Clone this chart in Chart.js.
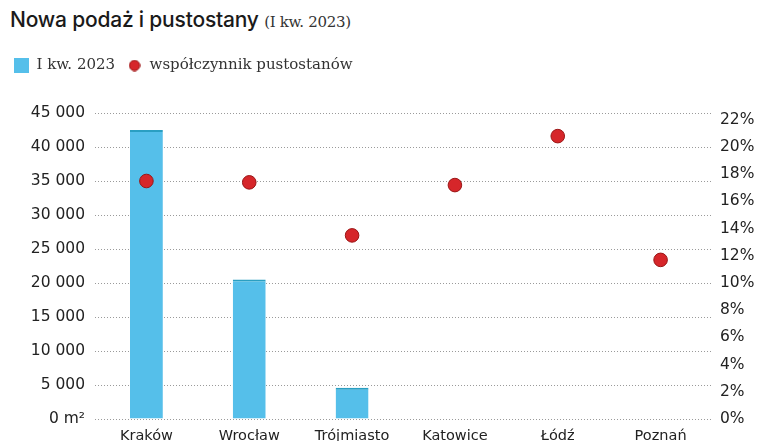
<!DOCTYPE html>
<html lang="pl">
<head>
<meta charset="utf-8">
<script src="https://cdn.jsdelivr.net/npm/chart.js@4/dist/chart.umd.min.js"></script>
<style>
  html, body { margin: 0; padding: 0; background: #fff; }
  #wrap { position: relative; width: 771px; height: 441px; }
  #title {
    position: absolute; left: 10px; top: 7px;
    font-family: Inter, "Noto Sans", sans-serif; font-weight: 500;
    font-size: 21px; color: #1a1a1a; letter-spacing: -0.2px; white-space: nowrap;
  }
  #title span {
    font-family: "DejaVu Serif", "Liberation Serif", serif; font-weight: 400;
    font-size: 15px; color: #333; letter-spacing: -0.3px;
  }
  canvas { position: absolute; left: 0; top: 0; }
</style>
</head>
<body>
<div id="wrap">
  <div id="title">Nowa podaż i pustostany <span>(I kw. 2023)</span></div>
  <canvas id="chart" width="771" height="441"></canvas>
</div>
<script>
// Miasta
const cities = ['Kraków', 'Wrocław', 'Trójmiasto', 'Katowice', 'Łódź', 'Poznań'];
// Nowa podaż biur w I kw. 2023 (m²)
const newSupply = [42500, 20500, 4600, null, null, null];
// Współczynnik pustostanów (%)
const vacancyRate = [17.5, 17.4, 13.5, 17.2, 20.8, 11.7];
// Podziałki osi
const supplyTicks = [0, 5000, 10000, 15000, 20000, 25000, 30000, 35000, 40000, 45000];
const rateTicks = [0, 2, 4, 6, 8, 10, 12, 14, 16, 18, 20, 22];

const sansFont = '"DejaVu Sans", "Noto Sans", sans-serif';
const serifFont = '"DejaVu Serif", "Liberation Serif", serif';
const barColor = '#55bfea';
const barEdge = '#2a9fc2';
const dotColor = '#d6262a';
const dotEdge = '#9a1616';

function spaced(v) {
  return String(v).replace(/\B(?=(\d{3})+(?!\d))/g, ' ');
}

// Małe znaczniki legendy: kwadrat dla słupków, kółko dla punktów
function legendSquare() {
  const c = document.createElement('canvas');
  c.width = 15; c.height = 15;
  const g = c.getContext('2d');
  g.fillStyle = barColor;
  g.fillRect(0, 0, 15, 15);
  return c;
}
function legendDot() {
  const c = document.createElement('canvas');
  c.width = 12; c.height = 12;
  const g = c.getContext('2d');
  g.beginPath();
  g.arc(6, 6, 5.2, 0, Math.PI * 2);
  g.fillStyle = dotColor;
  g.fill();
  g.lineWidth = 1;
  g.strokeStyle = dotEdge;
  g.stroke();
  return c;
}
const legendMarks = [legendSquare(), legendDot()];

// Dodatkowy odstęp pod legendą
const legendGap = {
  id: 'legendGap',
  beforeInit(chart) {
    const fit = chart.legend.fit;
    chart.legend.fit = function () {
      fit.call(this);
      this.height += 30;
    };
  }
};

new Chart(document.getElementById('chart'), {
  type: 'bar',
  plugins: [legendGap],
  data: {
    labels: cities,
    datasets: [
      {
        label: 'I kw. 2023',
        data: newSupply,
        yAxisID: 'y',
        backgroundColor: barColor,
        borderColor: barEdge,
        borderWidth: { top: 2, left: 0, right: 0, bottom: 0 },
        borderSkipped: 'bottom',
        barPercentage: 0.32,
        categoryPercentage: 1,
        order: 1
      },
      {
        type: 'line',
        label: 'współczynnik pustostanów',
        data: vacancyRate,
        yAxisID: 'y1',
        showLine: false,
        pointStyle: 'circle',
        pointRadius: 6.8,
        pointHoverRadius: 6.8,
        pointBackgroundColor: dotColor,
        pointBorderColor: dotEdge,
        pointBorderWidth: 1,
        backgroundColor: dotColor,
        borderColor: dotEdge,
        order: 0
      }
    ]
  },
  options: {
    responsive: false,
    animation: false,
    layout: { padding: { top: 46, left: 2, right: 0, bottom: 0 } },
    plugins: {
      tooltip: { enabled: false },
      legend: {
        position: 'top',
        align: 'start',
        labels: {
          usePointStyle: true,
          boxWidth: 15,
          boxHeight: 15,
          padding: 12,
          color: '#333',
          font: { family: serifFont, size: 15 },
          sort: (a, b) => a.datasetIndex - b.datasetIndex,
          generateLabels(chart) {
            return Chart.defaults.plugins.legend.labels.generateLabels(chart).map((item) => {
              item.pointStyle = legendMarks[item.datasetIndex];
              return item;
            });
          }
        }
      }
    },
    scales: {
      x: {
        offset: true,
        afterFit: (axis) => { axis.height = 22; },
        grid: { display: false, drawTicks: false },
        border: { display: false },
        ticks: { color: '#222', font: { family: sansFont, size: 14.5 }, padding: 9 }
      },
      y: {
        position: 'left',
        min: 0,
        max: 45000,
        afterBuildTicks: (axis) => { axis.ticks = supplyTicks.map(v => ({ value: v })); },
        afterFit: (axis) => { axis.width = 93; },
        grid: {
          color: '#9a9a9a',
          lineWidth: 1,
          drawTicks: false
        },
        border: { display: false, dash: [1, 2] },
        ticks: {
          color: '#222',
          padding: 10,
          font: { family: sansFont, size: 15.5 },
          callback: (v) => v === 0 ? '0 m²' : spaced(v)
        }
      },
      y1: {
        position: 'right',
        min: 0,
        max: 22.5,
        afterBuildTicks: (axis) => { axis.ticks = rateTicks.map(v => ({ value: v })); },
        afterFit: (axis) => { axis.width = 59; },
        grid: { display: false, drawTicks: false },
        border: { display: false },
        ticks: {
          color: '#222',
          padding: 8,
          font: { family: sansFont, size: 15.5 },
          callback: (v) => v + '%'
        }
      }
    }
  }
});
</script>
</body>
</html>
